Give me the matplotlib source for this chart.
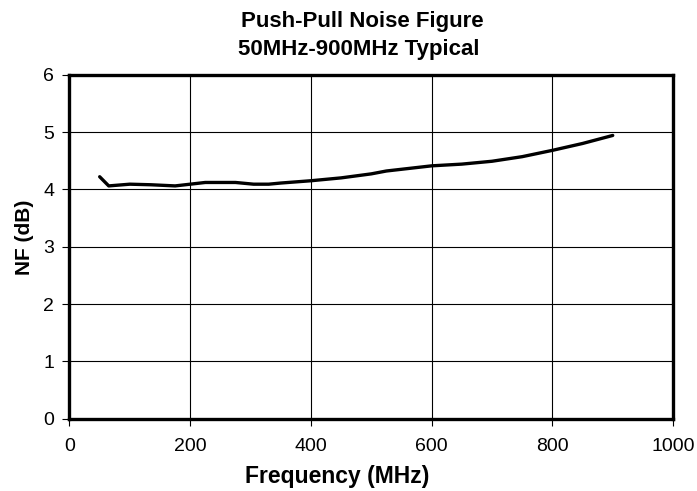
import numpy as np
import matplotlib.pyplot as plt

plt.rcParams['font.family'] = ['Liberation Sans', 'DejaVu Sans']

# data
freq = [50, 65, 100, 135, 175, 200, 225, 275, 305, 330, 350, 400,
        450, 500, 525, 600, 650, 700, 750, 800, 850, 900]
nf = [4.22, 4.06, 4.09, 4.08, 4.06, 4.09, 4.12, 4.12, 4.09, 4.09, 4.11, 4.15,
      4.20, 4.27, 4.32, 4.41, 4.44, 4.49, 4.57, 4.68, 4.80, 4.94]
xticks = [0, 200, 400, 600, 800, 1000]
yticks = [0, 1, 2, 3, 4, 5, 6]

fig = plt.figure(figsize=(6.97, 4.91), dpi=100)
ax = fig.add_axes([0.0997, 0.1473, 0.866, 0.7006])

ax.plot(freq, nf, color='black', lw=2.4, solid_capstyle='round', zorder=3)

ax.set_xlim(0, 1000)
ax.set_ylim(0, 6)
ax.set_xticks(xticks)
ax.set_yticks(yticks)
ax.grid(True, color='black', lw=0.8)
ax.tick_params(direction='out', length=5, width=0.8, labelsize=14)
ax.tick_params(axis='x', pad=9)
ax.tick_params(axis='y', pad=6)
for s in ax.spines.values():
    s.set_linewidth(2.4)

fig.text(0.52, 1 - 27.3 / 491, 'Push-Pull Noise Figure', ha='center',
         va='baseline', fontsize=16, fontweight='bold')
fig.text(0.514, 1 - 55 / 491, '50MHz-900MHz Typical', ha='center',
         va='baseline', fontsize=16, fontweight='bold')
fig.text(0.484, 1 - 483 / 491, 'Frequency (MHz)', ha='center', va='baseline',
         fontsize=16.5, fontweight='bold')
fig.text(0.035, 0.516, 'NF (dB)', ha='center', va='center', rotation=90,
         fontsize=15, fontweight='bold')

fig.savefig('out.png', dpi=100)
